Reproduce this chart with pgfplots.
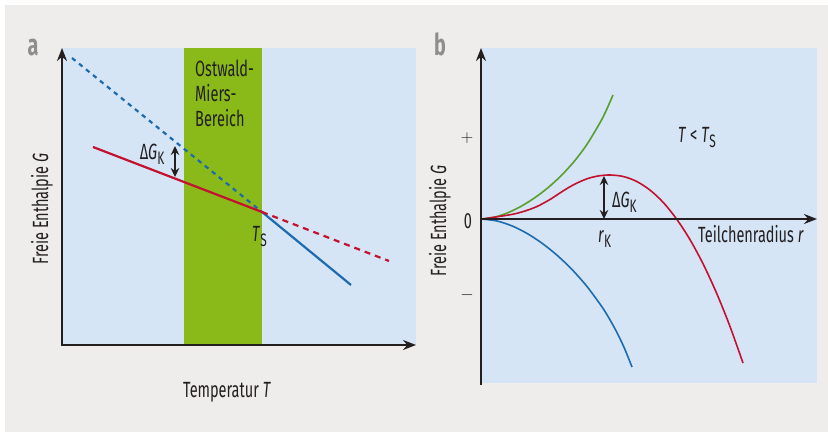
\documentclass[border=0pt]{standalone}
\usepackage{pgfplots}
\pgfplotsset{compat=1.18}
\usetikzlibrary{arrows.meta}
\usepackage{fontspec}
\setmainfont{Fira Sans}[FakeStretch=0.66]
\definecolor{bggray}{HTML}{EEEDEB}
\definecolor{paneblue}{HTML}{D5E5F5}
\definecolor{bandgreen}{HTML}{8AB91A}
\definecolor{cred}{HTML}{C4112F}
\definecolor{cblue}{HTML}{1D6BAE}
\definecolor{cgreen}{HTML}{5A9E2E}
\definecolor{lettergray}{HTML}{8E8E8E}
\definecolor{txt}{HTML}{231F20}
\newcommand{\lbl}{\fontsize{22}{25}\selectfont}
\newcommand{\sub}[1]{\textsubscript{\fontsize{18}{18}\selectfont #1}}
\begin{document}
\begin{tikzpicture}
\begin{axis}[scale only axis, width=828pt, height=434pt,
  xmin=0, xmax=828, ymin=0, ymax=434, y dir=reverse,
  axis lines=none, clip=false]
% backgrounds
\addplot[draw=none, fill=white] coordinates {(0,0)(828,0)(828,434)(0,434)} -- cycle;
\addplot[draw=none, fill=bggray] coordinates {(5,5)(828,5)(828,432)(5,432)} -- cycle;
\addplot[draw=none, fill=paneblue] coordinates {(62,48)(416,48)(416,345)(62,345)} -- cycle;
\addplot[draw=none, fill=bandgreen] coordinates {(184,48)(262,48)(262,345)(184,345)} -- cycle;
\addplot[draw=none, fill=paneblue] coordinates {(482,48)(817,48)(817,383)(482,383)} -- cycle;
% panel a lines
\addplot[cblue, line width=2.2pt, dash pattern=on 4.5pt off 4.5pt] coordinates {(72,58)(262,212)};
\addplot[cblue, line width=2.2pt] coordinates {(262,212)(351,285)};
\addplot[cred, line width=2.2pt] coordinates {(93,147)(262,212)};
\addplot[cred, line width=2.2pt, dash pattern=on 6pt off 5pt] coordinates {(262,212)(389,261)};
% panel a axes
\addplot[txt, line width=1.8pt, -{Stealth[length=13pt,width=10pt]}] coordinates {(62,346)(62,48)};
\addplot[txt, line width=1.8pt, -{Stealth[length=13pt,width=10pt]}] coordinates {(61,345)(416,345)};
\addplot[txt, line width=1.5pt, {Stealth[length=9pt,width=8.5pt]}-{Stealth[length=9pt,width=8.5pt]}] coordinates {(175,146)(175,177)};
% panel b curves
\addplot[cgreen, line width=1.6pt, smooth] coordinates {(482,219)(495.1,217)(508.2,212.6)(521.3,206.2)(534.4,198)(547.5,188.1)(560.6,176.2)(573.7,162)(586.8,144.6)(599.9,122.9)(606.5,109.8)(613,95)};
\addplot[cred, line width=1.6pt, smooth] coordinates {(482,219)(497,216.8)(513,214.2)(525,211)(537,206.5)(550,199.5)(563,191)(575,184)(587,178.8)(598,176)(610,175)(623.3,176.5)(636.6,181.4)(649.9,190)(663.2,202.4)(676.5,218.9)(689.8,239.3)(703.1,263.9)(716.4,292.7)(729.7,325.7)(743,363)};
\addplot[cblue, line width=1.6pt, smooth] coordinates {(482,219)(497,221)(512,225.9)(527,233.4)(542,243.2)(557,255.2)(572,269.5)(587,286.5)(602,306.9)(609.5,319)(617,332.6)(624.5,348.4)(632,367)};
% panel b axes
\addplot[txt, line width=1.8pt, -{Stealth[length=13pt,width=10pt]}] coordinates {(481,385)(481,48)};
\addplot[txt, line width=1.8pt, -{Stealth[length=13pt,width=10pt]}] coordinates {(480,219)(817,219)};
\addplot[txt, line width=1.5pt, {Stealth[length=9pt,width=8.5pt]}-{Stealth[length=9pt,width=8.5pt]}] coordinates {(604,176)(604,219)};
% texts panel a
\node[lettergray, font=\fontsize{30}{30}\selectfont\bfseries, anchor=base] at (axis cs:33,55) {a};
\node[txt, font=\lbl, anchor=north west, align=left, inner sep=0pt] at (axis cs:195,60) {Ostwald-\\Miers-\\Bereich};
\node[txt, font=\lbl, anchor=base east, inner sep=0pt] at (axis cs:165,159) {Δ\textit{G}\sub{K}};
\node[txt, font=\lbl, anchor=base west, inner sep=0pt] at (axis cs:252,241) {\textit{T}\sub{S}};
\node[txt, font=\lbl, rotate=90, inner sep=0pt] at (axis cs:42,209) {Freie Enthalpie \textit{G}};
\node[txt, font=\lbl, anchor=base, inner sep=0pt] at (axis cs:227,397) {Temperatur \textit{T}};
% texts panel b
\node[lettergray, font=\fontsize{30}{30}\selectfont\bfseries, anchor=base] at (axis cs:440,55) {b};
\node[txt, font=\fontsize{19}{19}\selectfont, inner sep=0pt] at (axis cs:467,138) {$+$};
\node[txt, font=\lbl, inner sep=0pt] at (axis cs:468,221) {0};
\node[txt, font=\fontsize{19}{19}\selectfont, inner sep=0pt] at (axis cs:467,295) {$-$};
\node[txt, font=\lbl, rotate=90, inner sep=0pt] at (axis cs:440,221) {Freie Enthalpie \textit{G}};
\node[txt, font=\lbl, anchor=base west, inner sep=0pt] at (axis cs:612,207) {Δ\textit{G}\sub{K}};
\node[txt, font=\lbl, anchor=base west, inner sep=0pt] at (axis cs:598,242) {\textit{r}\sub{K}};
\node[txt, font=\lbl, anchor=base west, inner sep=0pt] at (axis cs:698,242) {Teilchenradius \textit{r}};
\node[txt, font=\lbl, anchor=base west, inner sep=0pt] at (axis cs:678,142) {\textit{T} < \textit{T}\sub{S}};
\end{axis}
\end{tikzpicture}
\end{document}
